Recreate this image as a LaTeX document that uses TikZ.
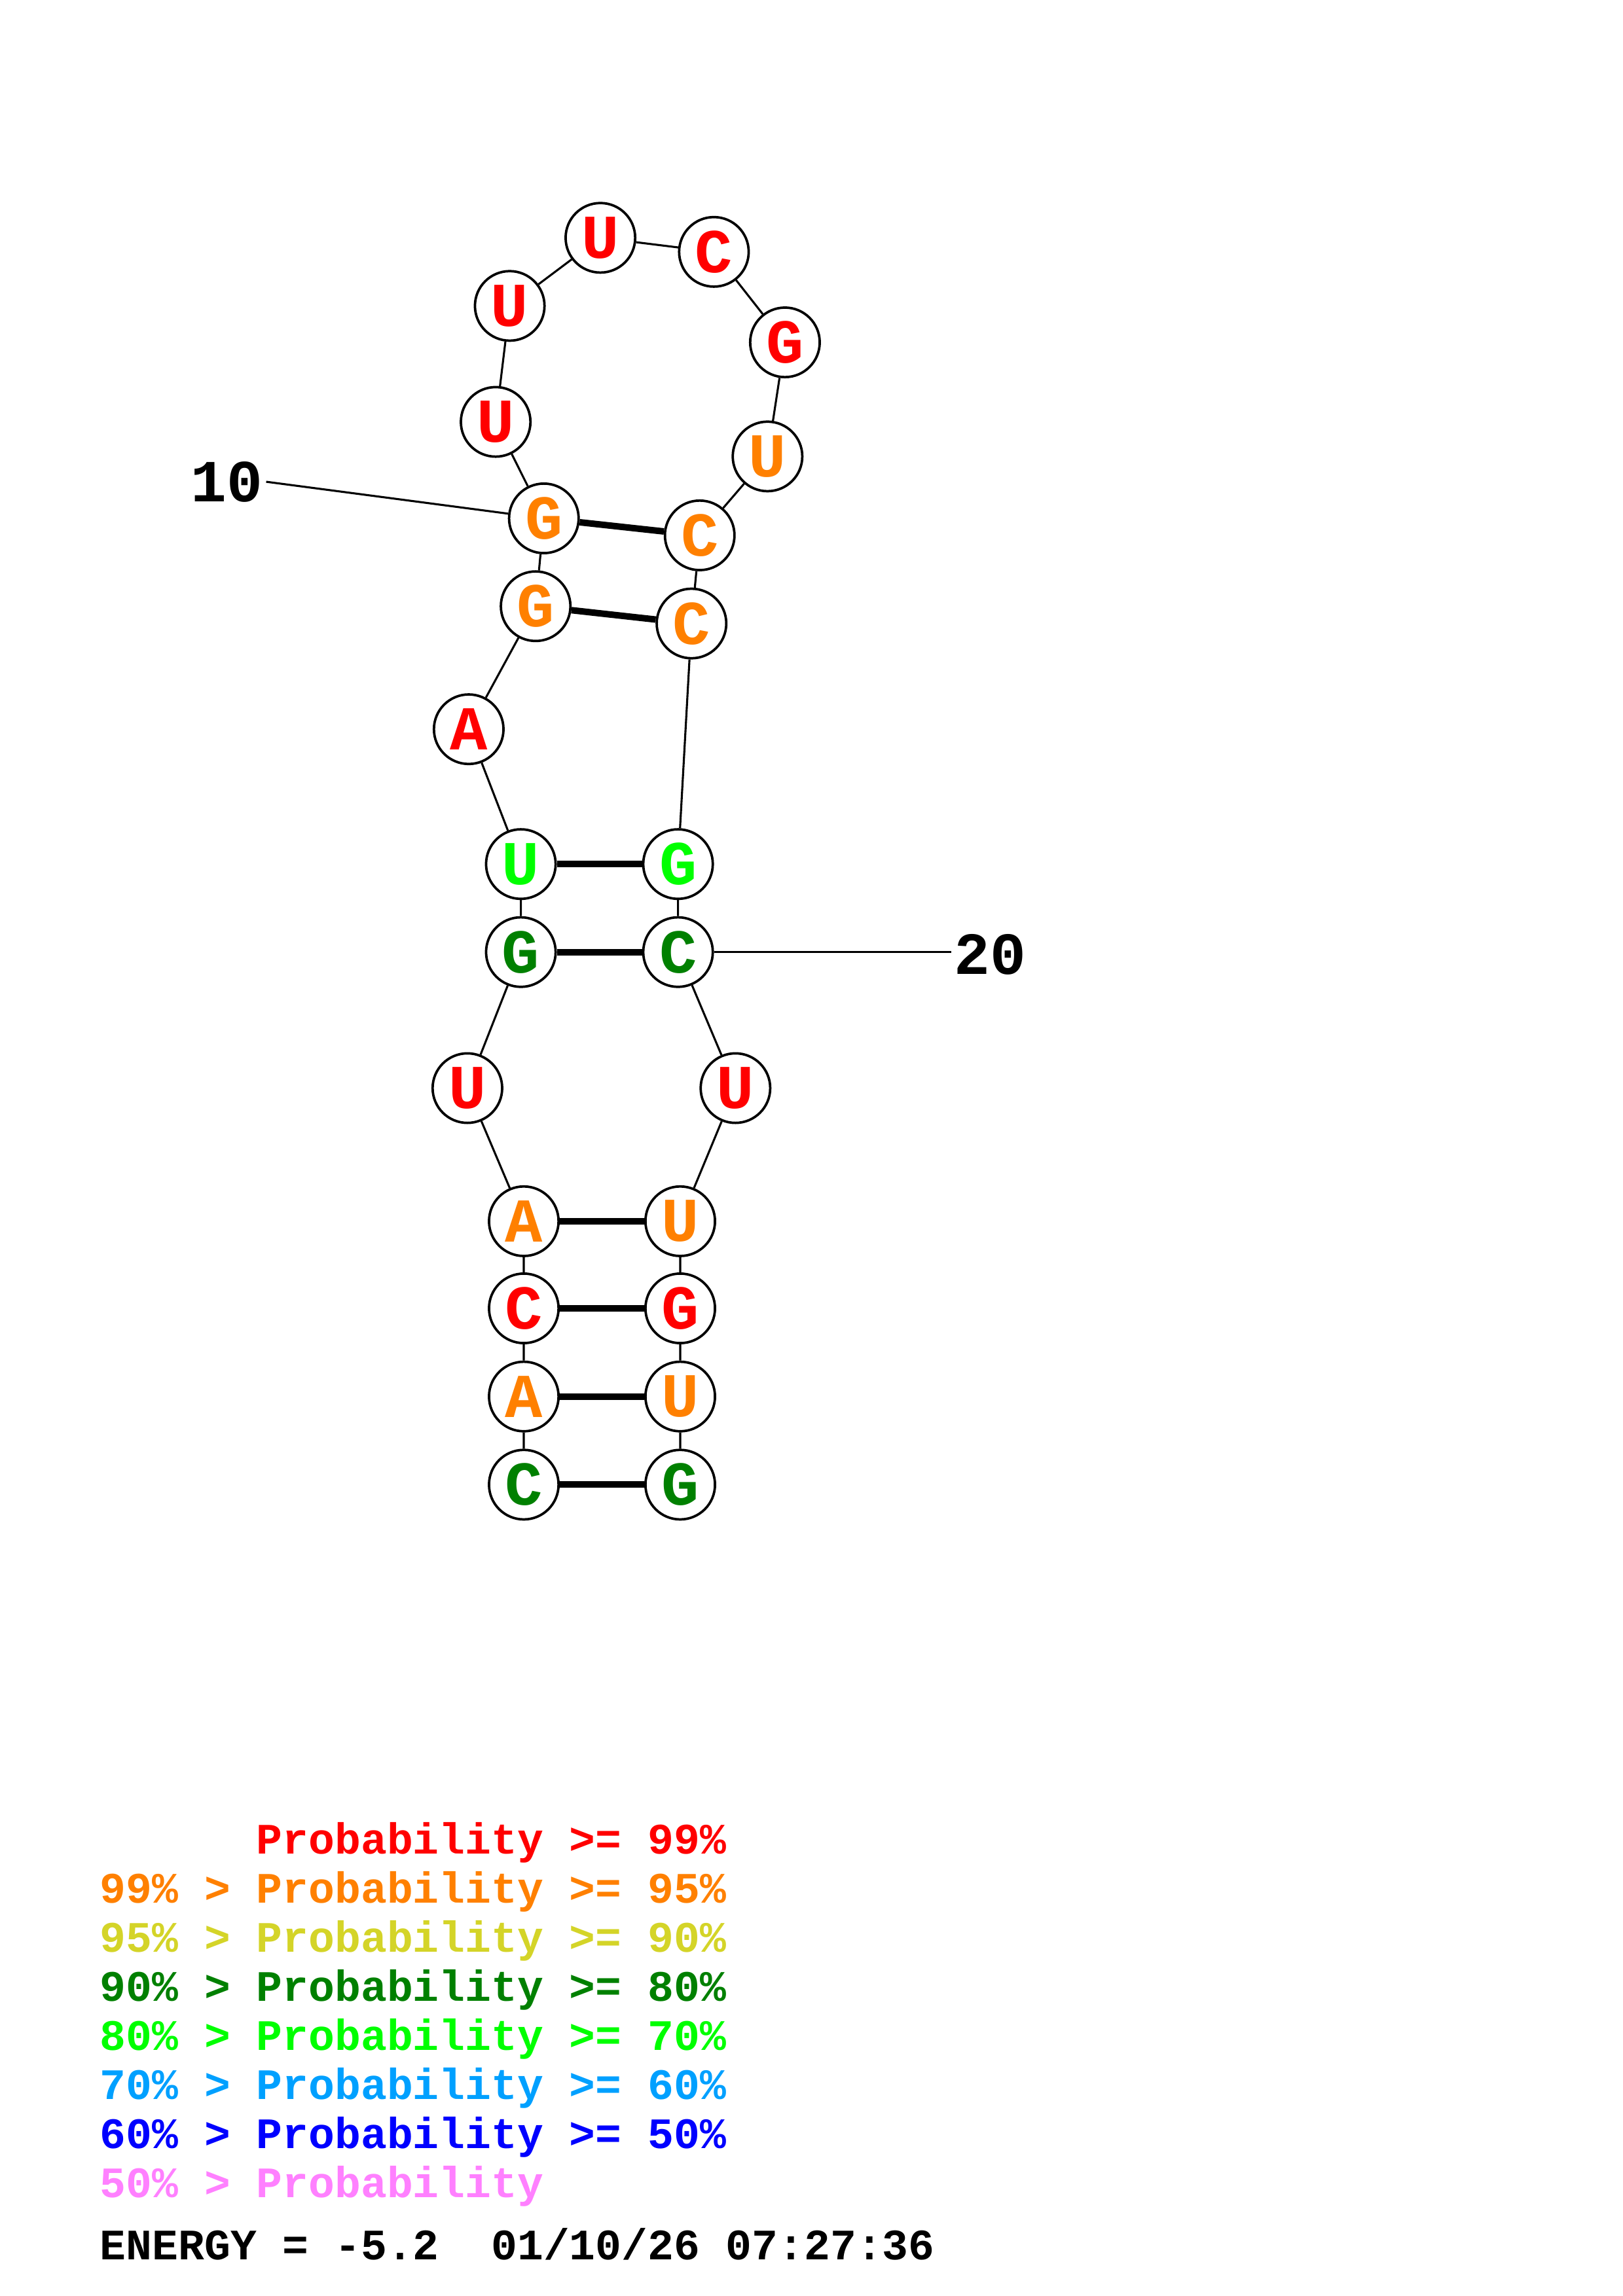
\documentclass[tikz,border=0pt]{standalone}
\usepackage{fontspec}
\setmonofont{Liberation Mono}
\usepackage{tikz}
\usetikzlibrary{positioning}
\definecolor{pred}{RGB}{255,0,0}
\definecolor{porange}{RGB}{255,128,0}
\definecolor{pyellow}{RGB}{212,212,40}
\definecolor{pdgreen}{RGB}{0,128,0}
\definecolor{pgreen}{RGB}{0,255,0}
\definecolor{psky}{RGB}{0,160,255}
\definecolor{pblue}{RGB}{0,0,255}
\definecolor{ppink}{RGB}{255,128,255}

\begin{document}
\begin{tikzpicture}[x=0.018953cm,y=-0.018953cm,
    base/.style={circle,draw,line width=0.9pt,fill=white,minimum size=0.9cm,inner sep=0pt,
        font=\ttfamily\bfseries\fontsize{23}{23}\selectfont},
    chain/.style={line width=0.75pt},
    pair/.style={line width=2.4pt},
    numlabel/.style={inner sep=1pt,font=\ttfamily\bfseries\fontsize{22}{22}\selectfont},
    legend/.style={anchor=base west,inner sep=0pt,font=\ttfamily\bfseries\fontsize{16}{16}\selectfont}]
        \useasboundingbox (0,0) rectangle (1108,1568);
        % 5' side
        \node[base,text=pdgreen](n1)at(357.6,1013.9){C};
        \node[base,text=porange](n2)at(357.6,953.7){A};
        \node[base,text=pred](n3)at(357.6,893.5){C};
        \node[base,text=porange](n4)at(357.6,834){A};
        \node[base,text=pred](n5)at(319.1,743.1){U};
        \node[base,text=pdgreen](n6)at(355.6,650.2){G};
        \node[base,text=pgreen](n7)at(355.6,590.1){U};
        \node[base,text=pred](n8)at(320,498){A};
        \node[base,text=porange](n9)at(365.7,414){G};
        \node[base,text=porange](n10)at(371.3,354){G};
        % hairpin loop
        \node[base,text=pred](n11)at(338.4,288.1){U};
        \node[base,text=pred](n12)at(348,208.9){U};
        \node[base,text=pred](n13)at(409.9,162.4){U};
        \node[base,text=pred](n14)at(487.4,172){C};
        \node[base,text=pred](n15)at(535.9,233.8){G};
        \node[base,text=porange](n16)at(524,311.7){U};
        % 3' side
        \node[base,text=porange](n17)at(477.7,365.6){C};
        \node[base,text=porange](n18)at(472.1,425.8){C};
        \node[base,text=pgreen](n19)at(462.9,590.1){G};
        \node[base,text=pdgreen](n20)at(462.9,650.2){C};
        \node[base,text=pred](n21)at(502.1,743.1){U};
        \node[base,text=porange](n22)at(464.4,834){U};
        \node[base,text=pred](n23)at(464.4,893.5){G};
        \node[base,text=porange](n24)at(464.4,953.7){U};
        \node[base,text=pdgreen](n25)at(464.4,1013.9){G};
        % backbone
        \path[draw,chain](n1)--(n2)--(n3)--(n4)--(n5)--(n6)--(n7)--(n8)--(n9)--(n10)--(n11)--(n12)--(n13);
        \path[draw,chain](n13)--(n14)--(n15)--(n16)--(n17)--(n18)--(n19)--(n20)--(n21)--(n22)--(n23)--(n24)--(n25);
        % pairs
        \path[draw,pair](n1)--(n25);
        \path[draw,pair](n2)--(n24);
        \path[draw,pair](n3)--(n23);
        \path[draw,pair](n4)--(n22);
        \path[draw,pair](n6)--(n20);
        \path[draw,pair](n7)--(n19);
        \path[draw,pair](n9)--(n18);
        \path[draw,pair](n10)--(n17);
        % numbering
        \node[numlabel](l10)at(155,329){10};
        \node[numlabel](l20)at(676,652){20};
        \path[draw,chain](l10.east)--(n10);
        \path[draw,chain](n20)--(n20-|l20.west);
        % legend
        \node[legend,text=pred](leg1)at(68,1266){\ \ \ \ \ \ Probability >= 99\%};
        \node[legend,text=porange](leg2)at(68,1299.5){99\% > Probability >= 95\%};
        \node[legend,text=pyellow](leg3)at(68,1333){95\% > Probability >= 90\%};
        \node[legend,text=pdgreen](leg4)at(68,1366.5){90\% > Probability >= 80\%};
        \node[legend,text=pgreen](leg5)at(68,1400){80\% > Probability >= 70\%};
        \node[legend,text=psky](leg6)at(68,1433.5){70\% > Probability >= 60\%};
        \node[legend,text=pblue](leg7)at(68,1467){60\% > Probability >= 50\%};
        \node[legend,text=ppink](leg8)at(68,1500.5){50\% > Probability};
        \node[legend](energy)at(68,1543){ENERGY = -5.2 \ 01/10/26 07:27:36};
    \end{tikzpicture}
\end{document}
